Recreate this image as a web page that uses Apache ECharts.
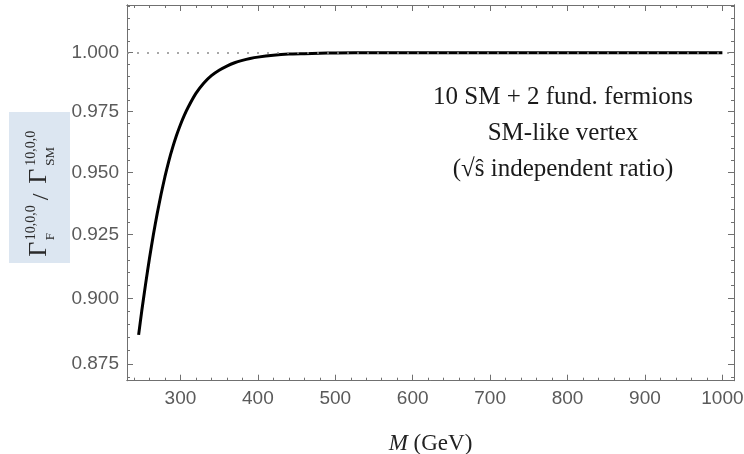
<!DOCTYPE html>
<html>
<head>
<meta charset="utf-8">
<script src="https://cdn.jsdelivr.net/npm/echarts@6/dist/echarts.min.js"></script>
<style>
html, body { margin: 0; padding: 0; background: #fff; }
#box { width: 744px; height: 454px; }
</style>
</head>
<body>
<div id="box"></div>
<script>
// M (GeV) and width ratio
const mass = [246, 250, 255, 260, 265, 270, 275, 280, 285, 290, 295, 300, 305, 310, 320, 330, 340, 350, 360, 370, 380, 390, 400, 420, 440, 460, 480, 500, 550, 600, 700, 800, 900, 1000];
const ratio = [0.886, 0.895, 0.9055, 0.9155, 0.9248, 0.9333, 0.9411, 0.9482, 0.9546, 0.9602, 0.9652, 0.9696, 0.9735, 0.9769, 0.9827, 0.9870, 0.9902, 0.9925, 0.9943, 0.9957, 0.9967, 0.9975, 0.9981, 0.9989, 0.9994, 0.9996, 0.9998, 0.9999, 1.0, 1.0, 1.0, 1.0, 1.0, 1.0];
const xTicks = [300, 400, 500, 600, 700, 800, 900, 1000];
const yTicks = [0.875, 0.900, 0.925, 0.950, 0.975, 1.000];
const refLevel = 1.0;

// y axis is logarithmic in the original, so it runs in ln(ratio)
const ln = v => Math.log(v);
const xMinor = [];
for (let m = 240; m <= 1000; m += 20) xMinor.push(m);
const yMinor = [];
for (let k = 870; k <= 1020; k += 5) yMinor.push(ln(k / 1000));

const frame = '#707070';
const tickText = '#5a5a5a';
const xMin = 231, xMax = 1015;
const yMin = -0.14069, yMax = 0.02046;

function xAx(pos, ticks, len, withLabels) {
    let ax = {
        type: 'value', position: pos, min: xMin, max: xMax,
        axisLine: { show: true, onZero: false, lineStyle: { color: frame, width: 1 } },
        axisTick: { show: true, inside: true, length: len, customValues: ticks, lineStyle: { color: frame, width: 1 } },
        axisLabel: { show: false },
        splitLine: { show: false }
    }
    if (withLabels) {
        ax.axisLabel = {
            show: true, customValues: xTicks, margin: 9,
            color: tickText, fontSize: 19, fontFamily: 'Liberation Sans',
            formatter: v => String(Math.round(v))
        }
        ax.name = '{i|M} (GeV)'
        ax.nameLocation = 'middle'
        ax.nameGap = 52
        ax.nameTextStyle = {
            color: '#222', fontFamily: 'Liberation Serif', fontSize: 23,
            rich: { i: { fontStyle: 'italic', fontFamily: 'Liberation Serif', fontSize: 23, color: '#222' } }
        }
    }
    return ax
}

function yAx(pos, ticks, len, withLabels) {
    let ax = {
        type: 'value', position: pos, min: yMin, max: yMax,
        axisLine: { show: true, onZero: false, lineStyle: { color: frame, width: 1 } },
        axisTick: { show: true, inside: true, length: len, customValues: ticks, lineStyle: { color: frame, width: 1 } },
        axisLabel: { show: false },
        splitLine: { show: false }
    }
    if (withLabels) {
        ax.axisLabel = {
            show: true, customValues: yTicks.map(ln), margin: 8,
            color: tickText, fontSize: 19, fontFamily: 'Liberation Sans',
            formatter: v => Math.exp(v).toFixed(3)
        }
    }
    return ax
}

const pts = mass.map((m, i) => [m, ln(ratio[i])]);

const myChart = echarts.init(document.getElementById('box'), null, { renderer: 'canvas' });
const serif = 'Liberation Serif';
const labelInk = '#2a2a2a';

function tex(str, x, y, size) {
    return {
        type: 'text', x: x, y: y, z: 20,
        style: { text: str, font: size + 'px ' + serif, fill: labelInk, textAlign: 'left', textVerticalAlign: 'middle' }
    }
}

let options = {
    animation: false,
    backgroundColor: '#fff',
    grid: { left: 127, right: 10, top: 5, bottom: 73.3, containLabel: false, outerBoundsMode: 'none' },
    xAxis: [
        xAx('bottom', xTicks, 6, true),
        xAx('bottom', xMinor, 3, false),
        xAx('top', xTicks, 6, false),
        xAx('top', xMinor, 3, false)
    ],
    yAxis: [
        yAx('left', yTicks.map(ln), 6, true),
        yAx('left', yMinor, 3, false),
        yAx('right', yTicks.map(ln), 6, false),
        yAx('right', yMinor, 3, false)
    ],
    series: [
        {
            // carries the dotted reference line under the curve
            type: 'line', data: pts, symbol: 'none', z: 1,
            lineStyle: { opacity: 0 },
            markLine: {
                silent: true, symbol: 'none', label: { show: false },
                lineStyle: { type: [2, 8], color: '#8c8c8c', width: 1.6 },
                data: [{ yAxis: ln(refLevel) }]
            }
        },
        {
            type: 'line', data: pts, symbol: 'none', showSymbol: false,
            smooth: 0.2, z: 3,
            lineStyle: { color: '#000', width: 3 }
        }
    ],
    graphic: [
        {
            type: 'rect', left: 9, top: 112, z: 5,
            shape: { width: 61, height: 151 },
            style: { fill: '#dce6f1' }
        },
        {
            type: 'group', x: 39.5, y: 192.3, rotation: Math.PI / 2, z: 20,
            children: [
                tex('Γ', -64.4, -0.3, 26),
                tex('10,0,0', -48, -8, 14),
                tex('F', -48, 11.3, 13),
                tex('/', -8, 2, 24),
                tex('Γ', 8.5, -0.3, 26),
                tex('10,0,0', 26.5, -8, 14),
                tex('SM', 26.5, 11.3, 13)
            ]
        },
        {
            type: 'text', x: 563, y: 133, z: 10,
            style: {
                text: '10 SM + 2 fund. fermions\nSM-like vertex\n(√ŝ independent ratio)',
                font: '25px ' + serif, fill: '#1a1a1a', lineHeight: 36,
                textAlign: 'center', textVerticalAlign: 'middle'
            }
        }
    ]
}
myChart.setOption(options)
</script>
</body>
</html>
